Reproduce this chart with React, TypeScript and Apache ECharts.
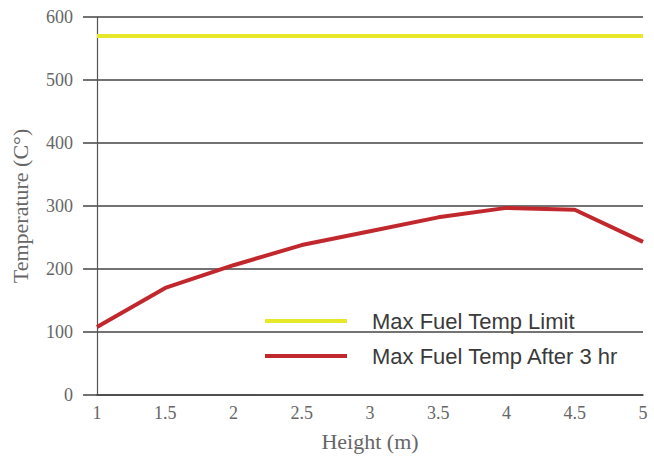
import React, { useEffect, useRef } from "react";
import * as echarts from "echarts";

const heights = [1, 1.5, 2, 2.5, 3, 3.5, 4, 4.5, 5];
const limitTemps = [570, 570, 570, 570, 570, 570, 570, 570, 570];
const after3hrTemps = [108, 170, 206, 238, 260, 282, 297, 294, 243];
const seriesNames = ["Max Fuel Temp Limit", "Max Fuel Temp After 3 hr"];
const seriesColors = ["#e8e82a", "#c0282e"];

export default function App() {
  const ref = useRef<HTMLDivElement>(null);
  useEffect(() => {
    if (!ref.current) return;
    const chart = echarts.init(ref.current, null, { renderer: "svg" });
    const serif = "Liberation Serif";
    chart.setOption({
      animation: false,
      backgroundColor: "#ffffff",
      grid: { left: 97, right: 11, top: 17, bottom: 64, containLabel: false },
      legend: {
        orient: "vertical",
        left: 260,
        top: 304,
        itemWidth: 82,
        itemHeight: 4,
        itemGap: 11,
        icon: "rect",
        data: seriesNames,
        textStyle: {
          fontFamily: "Liberation Sans",
          fontSize: 22,
          color: "#3a3a3a",
          lineHeight: 24,
          padding: [0, 0, 0, 20],
        },
      },
      xAxis: {
        type: "value",
        min: 1,
        max: 5,
        interval: 0.5,
        name: "Height (m)",
        nameLocation: "middle",
        nameGap: 35,
        nameTextStyle: { fontFamily: serif, fontSize: 22, color: "#666" },
        axisLine: { show: true, lineStyle: { color: "#444", width: 1.5 } },
        axisTick: { show: false },
        splitLine: { show: false },
        axisLabel: { fontFamily: serif, fontSize: 18, color: "#666", margin: 9 },
      },
      yAxis: {
        type: "value",
        min: 0,
        max: 600,
        interval: 100,
        name: "Temperature (C°)",
        nameLocation: "middle",
        nameGap: 66,
        nameTextStyle: { fontFamily: serif, fontSize: 22, color: "#666" },
        axisLine: { show: true, lineStyle: { color: "#555", width: 1.2 } },
        axisTick: { show: true, inside: false, length: 14, lineStyle: { color: "#444", width: 1.5 } },
        splitLine: { show: true, lineStyle: { color: "#444", width: 1.5 } },
        axisLabel: { fontFamily: serif, fontSize: 18, color: "#666", margin: 24 },
      },
      series: [
        {
          name: seriesNames[0],
          type: "line",
          data: heights.map((h, i) => [h, limitTemps[i]]),
          showSymbol: false,
          color: seriesColors[0],
          lineStyle: { width: 4, color: seriesColors[0] },
        },
        {
          name: seriesNames[1],
          type: "line",
          data: heights.map((h, i) => [h, after3hrTemps[i]]),
          showSymbol: false,
          color: seriesColors[1],
          lineStyle: { width: 4, color: seriesColors[1] },
        },
      ],
    });
    return () => chart.dispose();
  }, []);
  return <div ref={ref} style={{ width: 654, height: 459, position: "absolute", left: 0, top: 0 }} />;
}
